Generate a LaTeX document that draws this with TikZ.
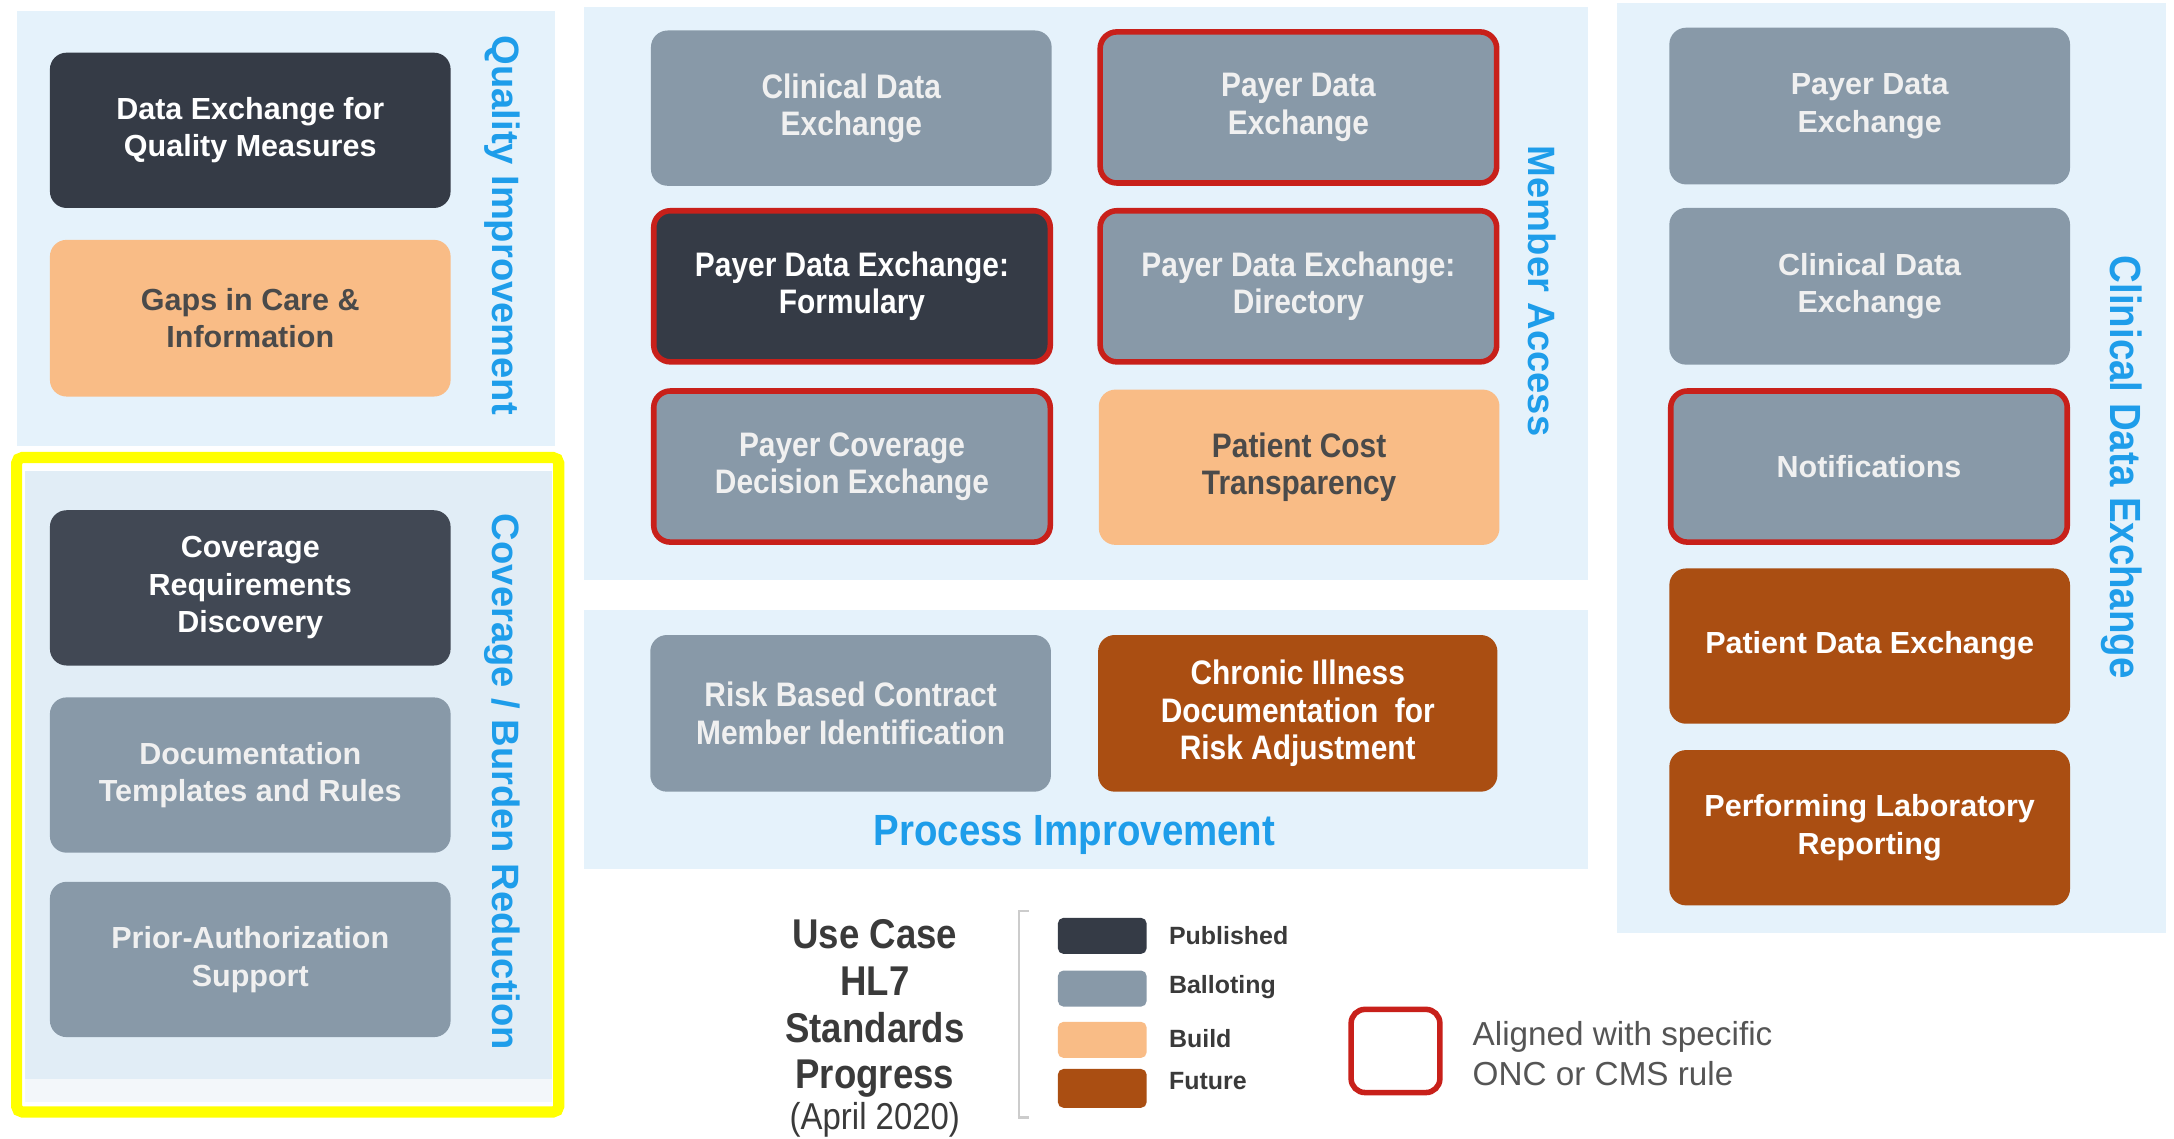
\documentclass[tikz,border=0pt]{standalone}
\usepackage{fontspec}
\setmainfont{Liberation Sans}
\newfontfamily\narrowf[FakeStretch=0.88]{Liberation Sans}
\definecolor{pubc}{HTML}{353B46}
\definecolor{pubc2}{HTML}{414854}
\definecolor{balc}{HTML}{8899A8}
\definecolor{bldc}{HTML}{F9BC86}
\definecolor{futc}{HTML}{AA4E12}
\definecolor{rulec}{HTML}{C8201A}
\definecolor{panelc}{HTML}{E5F2FB}
\definecolor{panelc2}{HTML}{E1EDF6}
\definecolor{stripc}{HTML}{F3F7FA}
\definecolor{labc}{HTML}{1E9DEA}
\definecolor{yelc}{HTML}{FFFF00}
\definecolor{darktxt}{HTML}{4A4A4A}
\definecolor{legtxt}{HTML}{3A3A3A}
\definecolor{graytxt}{HTML}{555555}
\begin{document}
\begin{tikzpicture}[x=1pt,y=1pt,
  box/.style={rounded corners=12pt, minimum width=289pt, minimum height=112pt,
    align=center, inner sep=0pt, text=white,
    font={\fontsize{22}{27}\selectfont\bfseries}},
  midbox/.style={box, font={\narrowf\fontsize{24.5}{27}\selectfont\bfseries}},
  pubbox/.style={fill=pubc},
  balbox/.style={fill=balc, text=white!94!black},
  bldbox/.style={fill=bldc, text=darktxt},
  futbox/.style={fill=futc},
  rulebox/.style={draw=rulec, line width=4pt, minimum width=286pt, minimum height=109pt},
  sidelab/.style={text=labc, font={\fontsize{27.5}{32}\selectfont\bfseries}, rotate=-90, inner sep=0pt},
  panel/.style={fill=panelc, draw=none},
  swatch/.style={rounded corners=4pt, minimum width=64pt, minimum height=26pt, inner sep=0pt},
  leglab/.style={anchor=west, text=legtxt, font={\fontsize{18}{22}\selectfont\bfseries}, inner sep=0pt}
]
\useasboundingbox (0,0) rectangle (1568,-820.8);
\fill[white] (0,0) rectangle (1568,-820.8);

% ---------- panels ----------
\fill[panel] (12,-8) rectangle (400,-322);
\fill[panelc2] (18,-340) rectangle (398,-778);
\fill[stripc] (18,-778) rectangle (398,-795);
\draw[yelc, line width=8pt, rounded corners=4pt] (12,-330) rectangle (403,-802);
\fill[panel] (421,-5) rectangle (1145,-418);
\fill[panel] (421,-440) rectangle (1145,-627);
\fill[panel] (1166,-2) rectangle (1562,-673);

% ---------- Quality Improvement ----------
\node[box, pubbox] (qm) at (180.5,-94) {\rule{0pt}{6pt}Data Exchange for\\Quality Measures};
\node[box, bldbox, minimum height=113pt] (gaps) at (180.5,-229.5) {\rule{0pt}{6pt}Gaps in Care \&\\Information};
\node[sidelab] (qilab) at (362,-162.5) {Quality Improvement};

% ---------- Coverage / Burden Reduction ----------
\node[box, fill=pubc2] (crd) at (180.5,-424) {\rule{0pt}{6pt}Coverage\\Requirements\\Discovery};
\node[box, balbox] (dtr) at (180.5,-559) {\rule{0pt}{6pt}Documentation\\Templates and Rules};
\node[box, balbox] (pas) at (180.5,-692) {\rule{0pt}{6pt}Prior-Authorization\\Support};
\node[sidelab] (cblab) at (362,-564) {Coverage / Burden Reduction};

% ---------- Member Access ----------
\node[midbox, balbox] (cdx) at (614,-78) {\rule{0pt}{6pt}Clinical Data\\Exchange};
\node[midbox, balbox, rulebox] (pdx) at (936.5,-77.5) {\rule{0pt}{6pt}Payer Data\\Exchange};
\node[midbox, pubbox, rulebox] (form) at (614.5,-206.5) {\rule{0pt}{6pt}Payer Data Exchange:\\Formulary};
\node[midbox, balbox, rulebox] (dir) at (936.5,-206.5) {\rule{0pt}{6pt}Payer Data Exchange:\\Directory};
\node[midbox, balbox, rulebox] (pcde) at (614.5,-336.5) {\rule{0pt}{6pt}Payer Coverage\\Decision Exchange};
\node[midbox, bldbox] (pct) at (937,-337) {\rule{0pt}{6pt}Patient Cost\\Transparency};
\node[sidelab] (malab) at (1112,-210) {Member Access};

% ---------- Process Improvement ----------
\node[midbox, balbox, minimum height=113pt] (rbc) at (613.5,-514.5) {\rule{0pt}{6pt}Risk Based Contract\\Member Identification};
\node[midbox, futbox, minimum width=288pt, minimum height=113pt] (cidra) at (936,-514.5) {\rule{0pt}{6pt}Chronic Illness\\Documentation\ \ for\\Risk Adjustment};
\node[text=labc, font={\narrowf\fontsize{31.5}{36}\selectfont\bfseries}, inner sep=0pt] (pilab) at (775,-602) {Process Improvement};

% ---------- Clinical Data Exchange ----------
\node[box, balbox, minimum height=113pt] (rpdx) at (1348.5,-76.5) {\rule{0pt}{6pt}Payer Data\\Exchange};
\node[box, balbox, minimum height=113pt] (rcdx) at (1348.5,-206.5) {\rule{0pt}{6pt}Clinical Data\\Exchange};
\node[box, balbox, rulebox] (notif) at (1348,-336.5) {\rule{0pt}{6pt}Notifications};
\node[box, futbox] (ptdx) at (1348.5,-466) {\rule{0pt}{6pt}Patient Data Exchange};
\node[box, futbox] (plr) at (1348.5,-597) {\rule{0pt}{6pt}Performing Laboratory\\Reporting};
\node[sidelab, font={\narrowf\fontsize{31.5}{36}\selectfont\bfseries}] (cdelab) at (1530,-337) {Clinical Data Exchange};

% ---------- Legend ----------
\node[align=center, text=legtxt, inner sep=0pt,
  font={\narrowf\fontsize{30}{33.7}\selectfont\bfseries}] (title) at (631,-727.5)
  {Use Case\\HL7\\Standards\\Progress};
\node[text=legtxt, inner sep=0pt, font={\narrowf\fontsize{27}{30}\selectfont}] (date) at (631,-808) {(April 2020)};
\coordinate (brt) at (735,-657);
\coordinate (brb) at (735,-806);
\draw[black!20, line width=1.5pt] ([xshift=7pt]brt) -- (brt) -- (brb) -- ([xshift=7pt]brb);

\node[swatch, fill=pubc] (swpub) at (795,-675) {};
\node[swatch, fill=balc] (swbal) at (795,-713) {};
\node[swatch, fill=bldc] (swbld) at (795,-750) {};
\node[swatch, fill=futc, minimum height=28pt] (swfut) at (795,-785) {};
\node[leglab] (lpub) at (843,-675) {Published};
\node[leglab] (lbal) at (843,-712) {Balloting};
\node[leglab] (lbld) at (843,-749) {Build};
\node[leglab] (lfut) at (843,-780) {Future};

\node[draw=rulec, line width=4pt, rounded corners=10pt, minimum width=64pt, minimum height=60pt, inner sep=0pt] (alignbox) at (1006.5,-758) {};
\node[anchor=west, align=left, text=graytxt, inner sep=0pt,
  font={\fontsize{24}{29}\selectfont}] (aligntxt) at (1062,-760)
  {Aligned with specific\\ONC or CMS rule};
\end{tikzpicture}
\end{document}
